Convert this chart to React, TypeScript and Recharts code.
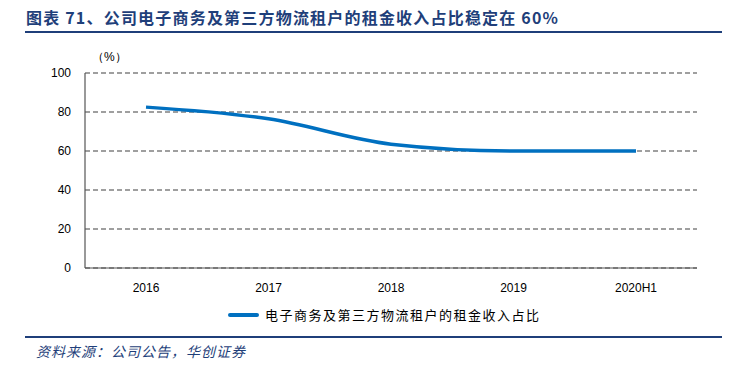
import React from "react";
import { CartesianGrid, Line, LineChart, XAxis, YAxis } from "recharts";

const years = ["2016", "2017", "2018", "2019", "2020H1"];
const rentShare = [82.5, 76.5, 63.5, 60.0, 60.0];
const yTicks = [0, 20, 40, 60, 80, 100];

const SERIES_NAME = "电子商务及第三方物流租户的租金收入占比";
const BLUE = "#0070c0";
const NAVY = "#1f3f7a";
const CJK = "'Noto Sans CJK SC', sans-serif";
const LATIN = "'Liberation Sans', Arial, sans-serif";

const data = years.map((y, i) => ({ year: y, share: rentShare[i] }));

const tickStyle = { fill: "#000", fontSize: 12, fontFamily: LATIN };

export default function App() {
  return (
    <div
      style={{
        position: "absolute",
        left: 0,
        top: 0,
        width: 736,
        height: 365,
        background: "#fff",
        overflow: "hidden",
      }}
    >
      <div
        style={{
          position: "absolute",
          left: 26,
          top: 5,
          fontFamily: CJK,
          fontWeight: 700,
          fontSize: 16,
          letterSpacing: 1.2,
          color: NAVY,
          whiteSpace: "nowrap",
        }}
      >
        图表 71、公司电子商务及第三方物流租户的租金收入占比稳定在 60%
      </div>
      <div
        style={{
          position: "absolute",
          left: 25,
          top: 31,
          width: 697,
          height: 2,
          background: NAVY,
        }}
      />
      <div
        style={{
          position: "absolute",
          left: 92,
          top: 49,
          fontFamily: LATIN,
          fontSize: 12,
          color: "#000",
        }}
      >
        （%）
      </div>

      <LineChart
        width={736}
        height={365}
        data={data}
        margin={{ top: 73, right: 39, bottom: 67, left: 45 }}
        style={{ position: "absolute", left: 0, top: 0 }}
      >
        <CartesianGrid
          vertical={false}
          stroke="#404040"
          strokeDasharray="5 3"
          strokeWidth={1.2}
        />
        <XAxis
          dataKey="year"
          height={30}
          padding={{ left: 61, right: 61 }}
          axisLine={{ stroke: "#555", strokeWidth: 1.2 }}
          tickLine={false}
          tick={tickStyle}
          tickMargin={9}
        />
        <YAxis
          width={40}
          domain={[0, 100]}
          ticks={yTicks}
          axisLine={{ stroke: "#555", strokeWidth: 1.2 }}
          tickLine={false}
          tick={tickStyle}
          tickMargin={8}
        />
        <Line
          type="monotone"
          dataKey="share"
          name={SERIES_NAME}
          stroke={BLUE}
          strokeWidth={3.5}
          dot={false}
          isAnimationActive={false}
        />
      </LineChart>

      <div
        style={{
          position: "absolute",
          left: 228,
          top: 305,
          display: "flex",
          alignItems: "center",
          fontFamily: CJK,
          fontSize: 13,
          color: "#000",
          whiteSpace: "nowrap",
        }}
      >
        <span
          style={{
            display: "inline-block",
            width: 31,
            height: 4,
            borderRadius: 2,
            background: BLUE,
            marginRight: 6,
          }}
        />
        <span style={{ letterSpacing: 1.5 }}>{SERIES_NAME}</span>
      </div>

      <div
        style={{
          position: "absolute",
          left: 25,
          top: 336,
          width: 697,
          height: 2,
          background: NAVY,
        }}
      />
      <div
        style={{
          position: "absolute",
          left: 36,
          top: 341,
          fontFamily: CJK,
          fontStyle: "italic",
          fontSize: 14,
          letterSpacing: 1,
          color: NAVY,
          whiteSpace: "nowrap",
        }}
      >
        资料来源：公司公告，华创证券
      </div>
    </div>
  );
}
